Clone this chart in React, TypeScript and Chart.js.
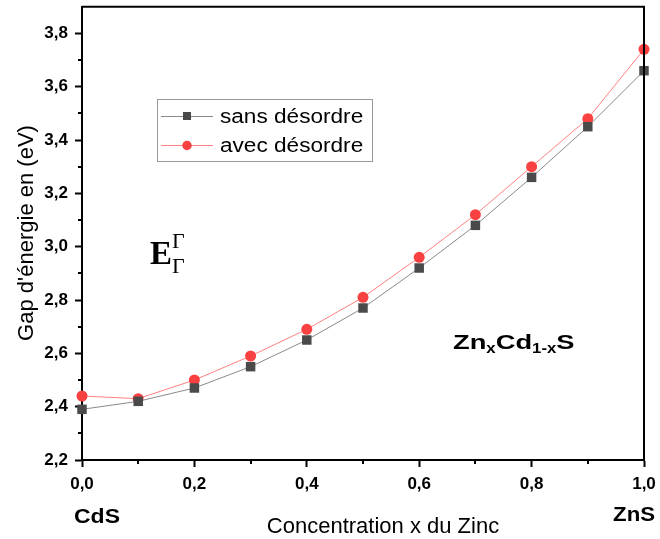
import React, { useEffect, useRef } from 'react';
import { Chart, registerables } from 'chart.js';

Chart.register(...registerables);

const concentrations = [0, 0.1, 0.2, 0.3, 0.4, 0.5, 0.6, 0.7, 0.8, 0.9, 1.0];
const sansDesordre = [2.39, 2.42, 2.47, 2.55, 2.65, 2.77, 2.92, 3.08, 3.26, 3.45, 3.66];
const avecDesordre = [2.44, 2.43, 2.50, 2.59, 2.69, 2.81, 2.96, 3.12, 3.30, 3.48, 3.74];
const xTicks = [0, 0.2, 0.4, 0.6, 0.8, 1.0];
const xMinorTicks = [0.1, 0.3, 0.5, 0.7, 0.9];
const yTicks = [2.2, 2.4, 2.6, 2.8, 3.0, 3.2, 3.4, 3.6, 3.8];
const yMinorTicks = [2.3, 2.5, 2.7, 2.9, 3.1, 3.3, 3.5, 3.7];
const seriesLabels = ['sans désordre', 'avec désordre'];

const SANS = '"Liberation Sans", Arial, sans-serif';
const SERIF = '"Liberation Serif", "Times New Roman", serif';

const fmt = (v: number) => v.toFixed(1).replace('.', ',');

function txt(ctx: CanvasRenderingContext2D, s: string, x: number, y: number, font: string, sx = 1, align: CanvasTextAlign = 'left') {
  ctx.save();
  ctx.font = font;
  ctx.textAlign = align;
  ctx.textBaseline = 'alphabetic';
  ctx.fillStyle = '#000';
  ctx.translate(x, y);
  ctx.scale(sx, 1);
  ctx.fillText(s, 0, 0);
  ctx.restore();
}

function txtW(ctx: CanvasRenderingContext2D, s: string, font: string, sx = 1) {
  ctx.save();
  ctx.font = font;
  const w = ctx.measureText(s).width * sx;
  ctx.restore();
  return w;
}

const decorPlugin = {
  id: 'decor',
  afterDraw(chart: any) {
    const ctx: CanvasRenderingContext2D = chart.ctx;
    const { left, right, top, bottom } = chart.chartArea;
    const xs = chart.scales.x;
    const ys = chart.scales.y;
    ctx.save();
    // top & right frame
    ctx.strokeStyle = '#000';
    ctx.lineWidth = 2;
    ctx.beginPath();
    ctx.moveTo(left, top);
    ctx.lineTo(right, top);
    ctx.lineTo(right, bottom);
    ctx.stroke();
    // minor ticks
    ctx.beginPath();
    xMinorTicks.forEach((v) => {
      const px = Math.round(xs.getPixelForValue(v));
      ctx.moveTo(px, bottom);
      ctx.lineTo(px, bottom + 4);
    });
    yMinorTicks.forEach((v) => {
      const py = Math.round(ys.getPixelForValue(v));
      ctx.moveTo(left, py);
      ctx.lineTo(left - 4, py);
    });
    ctx.stroke();
    ctx.restore();

    // axis titles
    txt(ctx, 'Concentration x du Zinc', 383, 533, `22px ${SANS}`, 1, 'center');
    ctx.save();
    ctx.translate(33, 233);
    ctx.rotate(-Math.PI / 2);
    ctx.font = `22px ${SANS}`;
    ctx.textAlign = 'center';
    ctx.fillStyle = '#000';
    ctx.fillText("Gap d'énergie en (eV)", 0, 0);
    ctx.restore();

    txt(ctx, 'CdS', 97, 523, `bold 20px ${SANS}`, 1.15, 'center');
    txt(ctx, 'ZnS', 655, 521, `bold 20px ${SANS}`, 1.11, 'right');

    // E Gamma Gamma
    txt(ctx, 'E', 150, 264, `bold 33px ${SERIF}`);
    txt(ctx, 'Γ', 172, 248, `22px ${SERIF}`);
    txt(ctx, 'Γ', 172, 273, `22px ${SERIF}`);

    // ZnxCd1-xS
    const mainF = `bold 21px ${SANS}`;
    const subF = `bold 14px ${SANS}`;
    let cx = 453;
    const by = 349;
    const parts: [string, boolean][] = [['Zn', false], ['x', true], ['Cd', false], ['1-x', true], ['S', false]];
    parts.forEach(([s, sub]) => {
      const f = sub ? subF : mainF;
      const sx = sub ? 1.2 : 1.3;
      txt(ctx, s, cx, sub ? by + 4 : by, f, sx);
      cx += txtW(ctx, s, f, sx);
    });

    // legend
    ctx.save();
    ctx.strokeStyle = '#999';
    ctx.lineWidth = 1;
    ctx.strokeRect(157.5, 99.5, 215, 62);
    const rows = [
      { y: 116, line: '#8a8a8a', fill: '#4a4a4a', shape: 'rect' },
      { y: 145, line: '#ff8080', fill: '#f94141', shape: 'circle' },
    ];
    rows.forEach((r, i) => {
      ctx.strokeStyle = r.line;
      ctx.beginPath();
      ctx.moveTo(161, r.y + 0.5);
      ctx.lineTo(213, r.y + 0.5);
      ctx.stroke();
      ctx.fillStyle = r.fill;
      if (r.shape === 'rect') {
        ctx.fillRect(183, r.y - 4, 8, 8);
      } else {
        ctx.beginPath();
        ctx.arc(187, r.y + 0.5, 4.7, 0, Math.PI * 2);
        ctx.fill();
      }
      txt(ctx, seriesLabels[i], 220, r.y + 7, `20px ${SANS}`, 1.13);
    });
    ctx.restore();
  },
};

export default function App() {
  const ref = useRef<HTMLCanvasElement | null>(null);
  useEffect(() => {
    document.body.style.margin = '0';
    const canvas = ref.current!;
    const chart = new Chart(canvas, {
      type: 'line',
      data: {
        labels: concentrations,
        datasets: [
          {
            label: seriesLabels[0],
            data: concentrations.map((x, i) => ({ x, y: sansDesordre[i] })),
            borderColor: '#8a8a8a',
            borderWidth: 1,
            backgroundColor: '#4a4a4a',
            pointBackgroundColor: '#4a4a4a',
            pointBorderWidth: 0,
            pointStyle: 'rect',
            pointRadius: 6.7,
            tension: 0,
            clip: false as any,
          },
          {
            label: seriesLabels[1],
            data: concentrations.map((x, i) => ({ x, y: avecDesordre[i] })),
            borderColor: '#ff8080',
            borderWidth: 1,
            backgroundColor: '#f94141',
            pointBackgroundColor: '#f94141',
            pointBorderWidth: 0,
            pointStyle: 'circle',
            pointRadius: 5.5,
            tension: 0,
            clip: false as any,
          },
        ],
      },
      options: {
        animation: false,
        responsive: false,
        devicePixelRatio: 1,
        layout: { padding: { left: 0, right: 16, top: 6, bottom: 0 } },
        plugins: { legend: { display: false }, tooltip: { enabled: false } },
        scales: {
          x: {
            type: 'linear',
            min: 0,
            max: 1,
            afterBuildTicks: (s: any) => {
              s.ticks = xTicks.map((v) => ({ value: v }));
            },
            afterFit: (s: any) => {
              s.height = 79;
              s.paddingLeft = 0;
              s.paddingRight = 0;
            },
            ticks: {
              callback: (v: any) => fmt(Number(v)),
              font: { family: SANS, size: 17, weight: 'bold' },
              color: '#000',
              padding: 7,
              maxRotation: 0,
              autoSkip: false,
            },
            grid: { drawOnChartArea: false, drawTicks: true, tickLength: 7, tickWidth: 2, tickColor: '#000' },
            border: { display: true, width: 2, color: '#000' },
          },
          y: {
            type: 'linear',
            min: 2.2,
            max: 3.9,
            afterBuildTicks: (s: any) => {
              s.ticks = yTicks.map((v) => ({ value: v }));
            },
            afterFit: (s: any) => {
              s.width = 82;
              s.paddingTop = 0;
              s.paddingBottom = 0;
            },
            ticks: {
              callback: (v: any) => fmt(Number(v)),
              font: { family: SANS, size: 17, weight: 'bold' },
              color: '#000',
              padding: 7,
              autoSkip: false,
            },
            grid: { drawOnChartArea: false, drawTicks: true, tickLength: 7, tickWidth: 2, tickColor: '#000' },
            border: { display: true, width: 2, color: '#000' },
          },
        },
      },
      plugins: [decorPlugin],
    } as any);
    return () => chart.destroy();
  }, []);
  return <canvas ref={ref} width={660} height={539} style={{ display: 'block' }} />;
}
